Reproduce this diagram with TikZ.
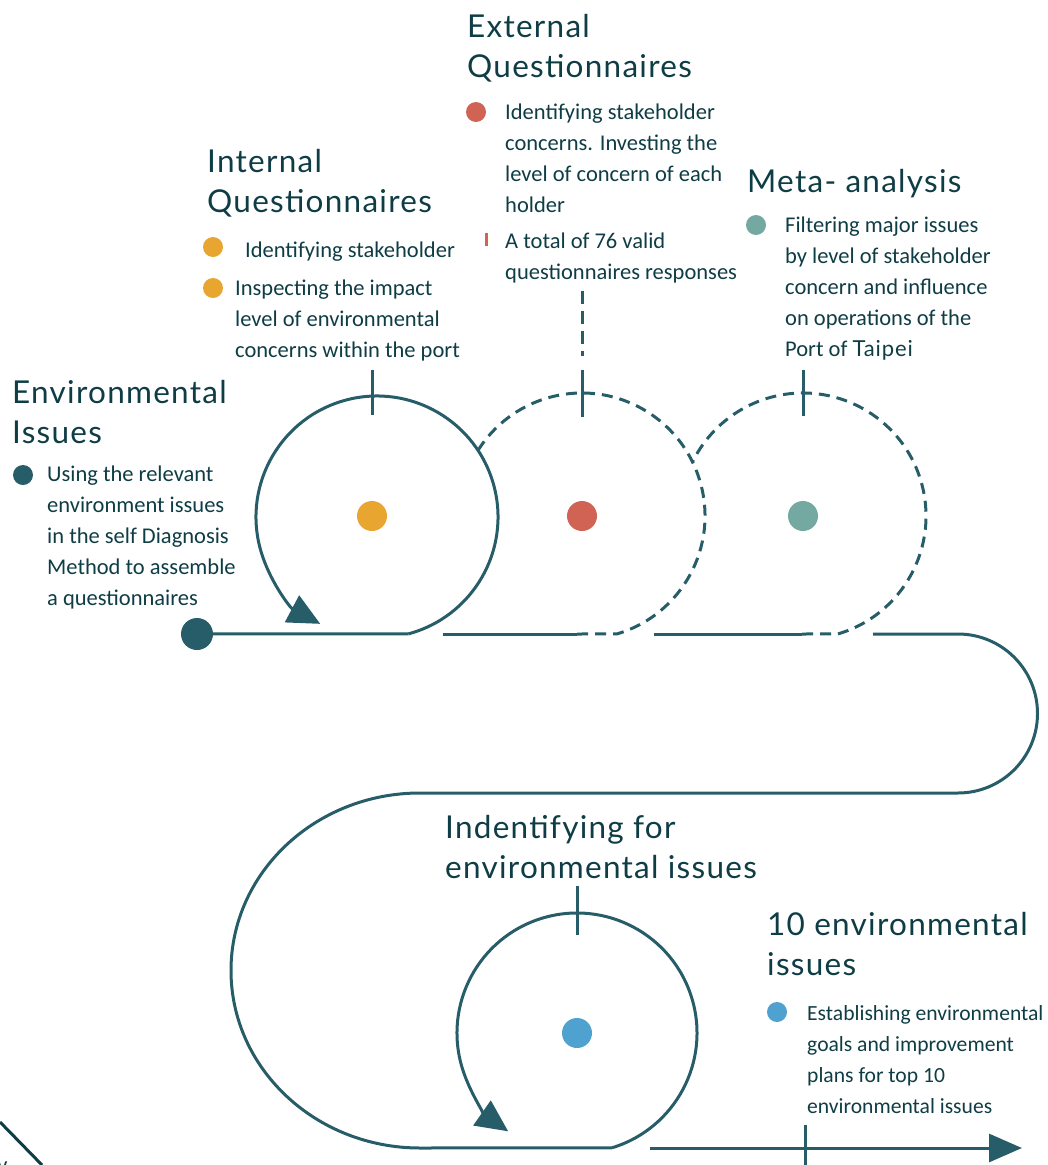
\documentclass[tikz,border=0pt]{standalone}
\usepackage{fontspec}
\setmainfont{Carlito}
\newfontfamily\headfont[LetterSpace=4]{Lato}
\usetikzlibrary{arrows.meta}
\definecolor{ln}{HTML}{275D68}
\definecolor{tx}{HTML}{0F3D45}
\definecolor{cor}{HTML}{E8A530}
\definecolor{cred}{HTML}{D06353}
\definecolor{cteal}{HTML}{74A9A1}
\definecolor{cblue}{HTML}{4FA1CF}
\newcommand{\mylines}[1]{\begin{tabular}[t]{@{}l@{}}#1\end{tabular}}
\begin{document}
\begin{tikzpicture}[x=1pt,y=1pt,
 solidpath/.style={draw=ln, line width=3pt},
 dashpath/.style={draw=ln, line width=3pt, dash pattern=on 11pt off 7pt},
 headtext/.style={anchor=base west, inner sep=0pt, text=tx, font=\headfont\fontsize{31.5}{40}\selectfont},
 bodytext/.style={anchor=base west, inner sep=0pt, text=tx, font=\fontsize{22.5}{31}\selectfont},
 bullet/.style={circle, inner sep=0pt, minimum size=20pt},
 bigdot/.style={circle, inner sep=0pt, minimum size=30pt},
 looptip/.style={-{Triangle[length=32pt,width=30pt]}},
 endtip/.style={-{Triangle[length=33pt,width=28pt]}}
]
\useasboundingbox (0,0) rectangle (1048,-1165);

% circle centres and junctions
\coordinate (c1) at (377,-517);
\coordinate (c2) at (582,-516);
\coordinate (c3) at (803,-516);
\coordinate (c4) at (577,-1033);
\coordinate (j1) at ([shift={(-75:121)}]c1);
\coordinate (j2) at ([shift={(-73.5:123)}]c2);
\coordinate (j3) at ([shift={(-73.5:123)}]c3);
\coordinate (j4) at ([shift={(-73:120)}]c4);

% start dot
\node[bigdot, fill=ln, minimum size=32pt] (start) at (197,-634) {};

% main track
\draw[solidpath] (start.center) -- (j1);
\draw[solidpath, looptip] (j1) arc[start angle=-75, end angle=242, radius=121];
\coordinate (s2) at (443,-634);
\coordinate (d2) at (577,-634);
\draw[solidpath] (s2) -- (d2);
\draw[dashpath] (d2) -- (j2) arc[start angle=-73.5, end angle=147.5, radius=123];
\coordinate (s3) at (654,-634);
\coordinate (d3) at (802,-634);
\draw[solidpath] (s3) -- (d3);
\draw[dashpath] (d3) -- (j3) arc[start angle=-73.5, end angle=154, radius=123];
\coordinate (s4) at (873,-634);
\coordinate (r1) at (958,-634);
\coordinate (l1) at (420,-793);
\draw[solidpath] (s4) -- (r1) arc[start angle=90, end angle=-90, radius=79.5] -- (l1)
  arc[start angle=90, end angle=270, x radius=189, y radius=177.5] -- (j4);
\draw[solidpath, looptip] (j4) arc[start angle=-73, end angle=235, radius=120];
\coordinate (s5) at (650,-1148);
\coordinate (e5) at (1022,-1148);
\draw[solidpath, endtip] (s5) -- (e5);

% ticks
\draw[solidpath] (372,-370) -- (372,-415);
\draw[solidpath] (582,-370) -- (582,-417);
\draw[draw=ln, line width=3pt, dash pattern=on 13pt off 7pt] (582,-291) -- (582,-356);
\draw[solidpath] (803,-370) -- (803,-416);
\draw[solidpath] (577,-886) -- (577,-935);
\draw[solidpath] (805,-1125) -- (805,-1165);

% circle dots
\node[bigdot, fill=cor] (d1) at (372,-516) {};
\node[bigdot, fill=cred] (dd2) at (582,-516) {};
\node[bigdot, fill=cteal] (dd3) at (803,-516) {};
\node[bigdot, fill=cblue] (dd4) at (577,-1033) {};

% bullets
\node[bullet, fill=ln] (b1) at (23,-475) {};
\node[bullet, fill=cor] (b2) at (213,-247) {};
\node[bullet, fill=cor] (b3) at (213,-288) {};
\node[bullet, fill=cred] (b4) at (476,-112) {};
\node[bullet, fill=cteal] (b5) at (756,-225) {};
\node[bullet, fill=cblue] (b6) at (777,-1012) {};
\fill[cred] (485,-233) rectangle (487.5,-246);

% headings
\node[headtext] (h1) at (12,-403) {\mylines{Environmental\\Issues}};
\node[headtext] (h2) at (207,-172) {\mylines{Internal\\Questionnaires}};
\node[headtext] (h3) at (467,-37) {\mylines{External\\Questionnaires}};
\node[headtext] (h4) at (747,-192) {Meta- analysis};
\node[headtext] (h5) at (445,-838) {\mylines{Indentifying for\\environmental issues}};
\node[headtext] (h6) at (767,-935) {\mylines{10 environmental\\issues}};

% body texts
\node[bodytext] (t1) at (47,-481) {\mylines{Using the relevant\\environment issues\\in the self Diagnosis\\Method to assemble\\a questionnaires}};
\node[bodytext] (t2) at (245,-257) {Identifying stakeholder};
\node[bodytext] (t3) at (235,-295) {\mylines{Inspecting the impact\\level of environmental\\concerns within the port}};
\node[bodytext] (t4) at (505,-119) {\mylines{Identifying stakeholder\\concerns. Investing the\\level of concern of each\\holder}};
\node[bodytext] (t5) at (505,-248) {\mylines{A total of 76 valid\\questionnaires responses}};
\node[bodytext] (t6) at (785,-232) {\mylines{Filtering major issues\\by level of stakeholder\\concern and influence\\on operations of the\\Port of {\headfont\fontsize{22}{31}\selectfont Taipei}}};
\node[bodytext, font=\fontsize{21.6}{31}\selectfont] (t7) at (807,-1020) {\mylines{Establishing environmental\\goals and improvement\\plans for top 10\\environmental issues}};

% cut-off fragment at bottom left
\draw[draw=tx, line width=3pt] (0,-1122) -- (42,-1165);
\node[bodytext, anchor=base east] (cut) at (12,-1172) {y.};
\end{tikzpicture}
\end{document}
